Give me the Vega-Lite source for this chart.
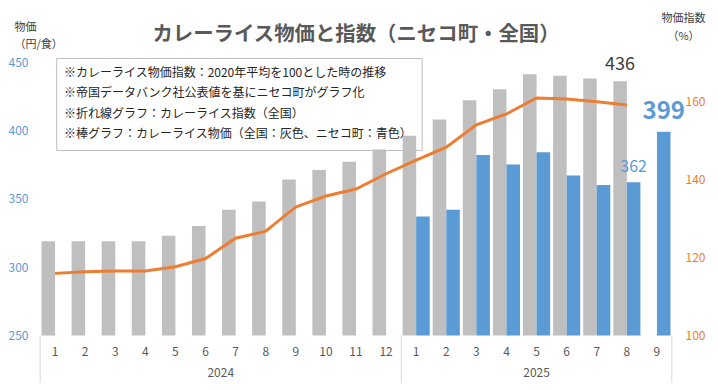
{
  "$schema": "https://vega.github.io/schema/vega-lite/v6.json",
  "autosize": "none",
  "width": 632,
  "height": 273.5,
  "padding": {"left": 40, "top": 62, "right": 46, "bottom": 54.5},
  "background": "white",
  "config": {"font": "Noto Sans CJK JP", "view": {"stroke": null}},
  "title": {
    "text": "カレーライス物価と指数（ニセコ町・全国）",
    "fontSize": 20.4,
    "fontWeight": "bold",
    "color": "#595959",
    "anchor": "middle",
    "frame": "group",
    "offset": 0,
    "dy": 33
  },
  "datasets": {
    "months": [
      {"m": "2024-01", "label": "1"}, {"m": "2024-02", "label": "2"}, {"m": "2024-03", "label": "3"},
      {"m": "2024-04", "label": "4"}, {"m": "2024-05", "label": "5"}, {"m": "2024-06", "label": "6"},
      {"m": "2024-07", "label": "7"}, {"m": "2024-08", "label": "8"}, {"m": "2024-09", "label": "9"},
      {"m": "2024-10", "label": "10"}, {"m": "2024-11", "label": "11"}, {"m": "2024-12", "label": "12"},
      {"m": "2025-01", "label": "1"}, {"m": "2025-02", "label": "2"}, {"m": "2025-03", "label": "3"},
      {"m": "2025-04", "label": "4"}, {"m": "2025-05", "label": "5"}, {"m": "2025-06", "label": "6"},
      {"m": "2025-07", "label": "7"}, {"m": "2025-08", "label": "8"}, {"m": "2025-09", "label": "9"}
    ],
    "prices": [
      {"m": "2024-01", "series": "全国", "price": 319},
      {"m": "2024-02", "series": "全国", "price": 319},
      {"m": "2024-03", "series": "全国", "price": 319},
      {"m": "2024-04", "series": "全国", "price": 319},
      {"m": "2024-05", "series": "全国", "price": 323},
      {"m": "2024-06", "series": "全国", "price": 330},
      {"m": "2024-07", "series": "全国", "price": 342},
      {"m": "2024-08", "series": "全国", "price": 348},
      {"m": "2024-09", "series": "全国", "price": 364},
      {"m": "2024-10", "series": "全国", "price": 371},
      {"m": "2024-11", "series": "全国", "price": 377},
      {"m": "2024-12", "series": "全国", "price": 386},
      {"m": "2025-01", "series": "全国", "price": 396},
      {"m": "2025-02", "series": "全国", "price": 408},
      {"m": "2025-03", "series": "全国", "price": 422},
      {"m": "2025-04", "series": "全国", "price": 430},
      {"m": "2025-05", "series": "全国", "price": 441},
      {"m": "2025-06", "series": "全国", "price": 440},
      {"m": "2025-07", "series": "全国", "price": 438},
      {"m": "2025-08", "series": "全国", "price": 436},
      {"m": "2025-01", "series": "ニセコ町", "price": 337},
      {"m": "2025-02", "series": "ニセコ町", "price": 342},
      {"m": "2025-03", "series": "ニセコ町", "price": 382},
      {"m": "2025-04", "series": "ニセコ町", "price": 375},
      {"m": "2025-05", "series": "ニセコ町", "price": 384},
      {"m": "2025-06", "series": "ニセコ町", "price": 367},
      {"m": "2025-07", "series": "ニセコ町", "price": 360},
      {"m": "2025-08", "series": "ニセコ町", "price": 362},
      {"m": "2025-09", "series": "ニセコ町", "price": 399}
    ],
    "index": [
      {"m": "2024-01", "idx": 115.9},
      {"m": "2024-02", "idx": 116.3},
      {"m": "2024-03", "idx": 116.5},
      {"m": "2024-04", "idx": 116.5},
      {"m": "2024-05", "idx": 117.6},
      {"m": "2024-06", "idx": 119.7},
      {"m": "2024-07", "idx": 124.9},
      {"m": "2024-08", "idx": 126.7},
      {"m": "2024-09", "idx": 132.9},
      {"m": "2024-10", "idx": 135.7},
      {"m": "2024-11", "idx": 137.5},
      {"m": "2024-12", "idx": 141.4},
      {"m": "2025-01", "idx": 144.9},
      {"m": "2025-02", "idx": 148.2},
      {"m": "2025-03", "idx": 153.9},
      {"m": "2025-04", "idx": 156.7},
      {"m": "2025-05", "idx": 160.8},
      {"m": "2025-06", "idx": 160.5},
      {"m": "2025-07", "idx": 159.8},
      {"m": "2025-08", "idx": 159.0}
    ]
  },
  "layer": [
    {
      "layer": [
        {
          "data": {"name": "months"},
          "mark": {"type": "text", "fontSize": 12, "color": "#595959", "baseline": "middle"},
          "encoding": {
            "x": {"field": "m", "type": "nominal", "axis": null,
                  "scale": {"paddingInner": 0.1, "paddingOuter": 0.05}},
            "y": {
              "datum": 238, "type": "quantitative",
              "scale": {"domain": [250, 450], "zero": false, "nice": false},
              "axis": {
                "title": ["物価", "（円/食）"],
                "titleAngle": 0, "titleAlign": "left", "titleBaseline": "top",
                "titleX": -26, "titleY": -41, "titleFontSize": 11,
                "titleFontWeight": "normal", "titleColor": "#404040", "titleLineHeight": 17.5,
                "values": [250, 300, 350, 400, 450],
                "domain": false, "ticks": false, "labelPadding": 12,
                "labelColor": "#5b9bd5", "labelFontSize": 12,
                "gridColor": "#d9d9d9"
              }
            },
            "text": {"field": "label", "type": "nominal"}
          }
        },
        {
          "data": {"values": [{}]},
          "mark": {"type": "rect", "fill": "white", "stroke": "#bfbfbf", "strokeWidth": 1},
          "encoding": {
            "x": {"datum": "2024-01", "type": "nominal", "bandPosition": 0.56, "axis": null},
            "x2": {"datum": "2025-01", "bandPosition": 0.72},
            "y": {"datum": 452.6, "type": "quantitative", "scale": {"domain": [250, 450]}},
            "y2": {"datum": 385.3}
          }
        },
        {
          "data": {"name": "prices"},
          "mark": {"type": "bar"},
          "encoding": {
            "x": {"field": "m", "type": "nominal", "axis": null},
            "xOffset": {"field": "series", "type": "nominal", "scale": {"domain": ["全国", "ニセコ町"], "paddingInner": 0, "paddingOuter": 0}},
            "y": {"field": "price", "type": "quantitative", "scale": {"domain": [250, 450], "zero": false, "nice": false}},
            "y2": {"datum": 250},
            "color": {"field": "series", "type": "nominal", "scale": {"domain": ["全国", "ニセコ町"], "range": ["#bfbfbf", "#5b9bd5"]}, "legend": null}
          }
        },
        {
          "data": {"values": [{}]},
          "mark": {"type": "rule", "color": "#d9d9d9", "strokeWidth": 1},
          "encoding": {
            "x": {"datum": "2024-01", "type": "nominal", "bandPosition": -0.05, "axis": null},
            "y": {"datum": 250, "type": "quantitative", "scale": {"domain": [250, 450]}},
            "y2": {"datum": 215.3}
          }
        },
        {
          "data": {"values": [{}]},
          "mark": {"type": "rule", "color": "#d9d9d9", "strokeWidth": 1},
          "encoding": {
            "x": {"datum": "2025-01", "type": "nominal", "bandPosition": -0.05, "axis": null},
            "y": {"datum": 250, "type": "quantitative", "scale": {"domain": [250, 450]}},
            "y2": {"datum": 215.3}
          }
        },
        {
          "data": {"values": [{}]},
          "mark": {"type": "rule", "color": "#d9d9d9", "strokeWidth": 1},
          "encoding": {
            "x": {"datum": "2025-09", "type": "nominal", "bandPosition": 1.05, "axis": null},
            "y": {"datum": 250, "type": "quantitative", "scale": {"domain": [250, 450]}},
            "y2": {"datum": 215.3}
          }
        },
        {
          "data": {"values": [{}]},
          "mark": {"type": "text", "text": "2024", "fontSize": 12, "color": "#595959", "baseline": "middle"},
          "encoding": {
            "x": {"datum": "2024-07", "type": "nominal", "bandPosition": -0.05, "axis": null},
            "y": {"datum": 222.6, "type": "quantitative", "scale": {"domain": [250, 450]}}
          }
        },
        {
          "data": {"values": [{}]},
          "mark": {"type": "text", "text": "2025", "fontSize": 12, "color": "#595959", "baseline": "middle"},
          "encoding": {
            "x": {"datum": "2025-05", "type": "nominal", "bandPosition": 0.5, "axis": null},
            "y": {"datum": 222.6, "type": "quantitative", "scale": {"domain": [250, 450]}}
          }
        },
        {
          "data": {"values": [{}]},
          "mark": {
            "type": "text",
            "text": [
              "※カレーライス物価指数：2020年平均を100とした時の推移",
              "※帝国データバンク社公表値を基にニセコ町がグラフ化",
              "※折れ線グラフ：カレーライス指数（全国）",
              "※棒グラフ：カレーライス物価（全国：灰色、ニセコ町：青色）"
            ],
            "align": "left", "baseline": "middle", "lineHeight": 20.3,
            "fontSize": 12, "color": "#262626"
          },
          "encoding": {
            "x": {"datum": "2024-01", "type": "nominal", "bandPosition": 0.83, "axis": null},
            "y": {"datum": 442, "type": "quantitative", "scale": {"domain": [250, 450]}}
          }
        },
        {
          "data": {"name": "prices"},
          "transform": [{"filter": "datum.m == '2025-08' && datum.series == '全国'"}],
          "mark": {"type": "text", "fontSize": 18, "color": "#404040", "baseline": "middle", "dy": -16},
          "encoding": {
            "x": {"field": "m", "type": "nominal", "axis": null},
            "xOffset": {"field": "series", "type": "nominal"},
            "y": {"field": "price", "type": "quantitative", "scale": {"domain": [250, 450]}},
            "text": {"field": "price", "type": "quantitative"}
          }
        },
        {
          "data": {"name": "prices"},
          "transform": [{"filter": "datum.m == '2025-08' && datum.series == 'ニセコ町'"}],
          "mark": {"type": "text", "fontSize": 16, "color": "#5b9bd5", "baseline": "middle", "dy": -15},
          "encoding": {
            "x": {"field": "m", "type": "nominal", "axis": null},
            "xOffset": {"field": "series", "type": "nominal"},
            "y": {"field": "price", "type": "quantitative", "scale": {"domain": [250, 450]}},
            "text": {"field": "price", "type": "quantitative"}
          }
        },
        {
          "data": {"name": "prices"},
          "transform": [{"filter": "datum.m == '2025-09'"}],
          "mark": {"type": "text", "fontSize": 24, "fontWeight": "bold", "color": "#5b9bd5", "baseline": "middle", "dy": -20},
          "encoding": {
            "x": {"field": "m", "type": "nominal", "axis": null},
            "xOffset": {"field": "series", "type": "nominal"},
            "y": {"field": "price", "type": "quantitative", "scale": {"domain": [250, 450]}},
            "text": {"field": "price", "type": "quantitative"}
          }
        }
      ]
    },
    {
      "data": {"name": "index"},
      "mark": {"type": "line", "color": "#ed7d31", "strokeWidth": 3},
      "encoding": {
        "x": {"field": "m", "type": "nominal", "axis": null},
        "y": {
          "field": "idx", "type": "quantitative",
          "scale": {"domain": [100, 170], "zero": false, "nice": false},
          "axis": {
            "orient": "right",
            "title": ["物価指数", "（%）"],
            "titleAngle": 0, "titleAlign": "center", "titleBaseline": "top",
            "titleX": 11, "titleY": -49.5, "titleFontSize": 11,
            "titleFontWeight": "normal", "titleColor": "#404040", "titleLineHeight": 17.5,
            "values": [100, 120, 140, 160],
            "grid": false, "domain": false, "ticks": false, "labelPadding": 13,
            "labelColor": "#ed7d31", "labelFontSize": 12
          }
        }
      }
    }
  ],
  "resolve": {"scale": {"y": "independent"}}
}
